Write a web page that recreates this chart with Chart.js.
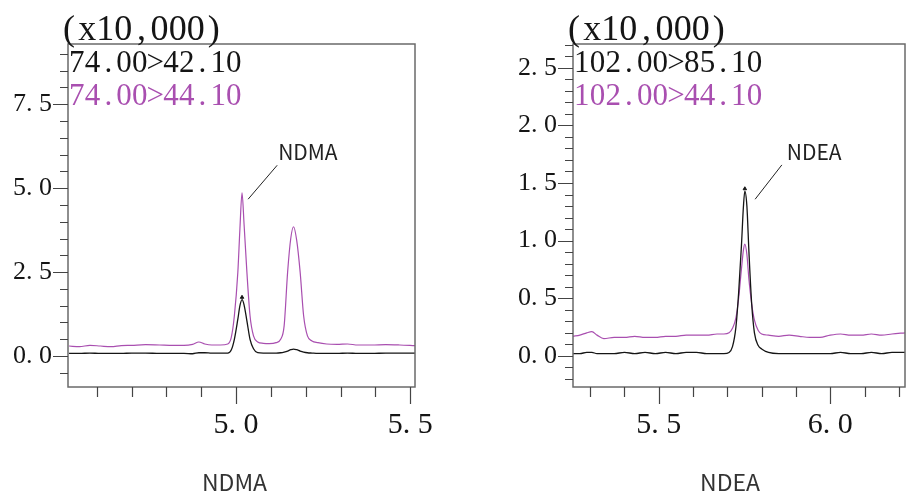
<!DOCTYPE html>
<html>
<head>
<meta charset="utf-8">
<script src="https://cdn.jsdelivr.net/npm/chart.js@4"></script>
<style>
  body { margin: 0; background: #fff; }
  canvas { position: absolute; top: 0; }
</style>
</head>
<body>
<canvas id="ndma" width="455" height="496" style="left:0"></canvas>
<canvas id="ndea" width="455" height="496" style="left:455px"></canvas>
<script>
// NDMA: retention time (min) and intensity (x10,000)
const ndmaTime = [4.52, 4.55, 4.58, 4.61, 4.64, 4.67, 4.70, 4.74, 4.78, 4.82,
  4.85, 4.875, 4.893, 4.91, 4.93, 4.955, 4.976, 4.986, 4.995, 5.005,
  5.011, 5.017, 5.023, 5.031, 5.040, 5.050, 5.062, 5.078, 5.095, 5.115,
  5.128, 5.138, 5.148, 5.157, 5.165, 5.174, 5.184, 5.194, 5.205, 5.218,
  5.235, 5.26, 5.29, 5.32, 5.35, 5.39, 5.43, 5.47, 5.514];
const ndma42 = [0.08, 0.08, 0.09, 0.08, 0.08, 0.08, 0.09, 0.09, 0.08, 0.08,
  0.08, 0.07, 0.10, 0.10, 0.09, 0.09, 0.09, 0.18, 0.50, 1.10,
  1.50, 1.68, 1.52, 1.05, 0.50, 0.22, 0.10, 0.09, 0.09, 0.09,
  0.10, 0.12, 0.15, 0.19, 0.21, 0.19, 0.15, 0.12, 0.10, 0.09,
  0.08, 0.08, 0.08, 0.09, 0.08, 0.08, 0.09, 0.09, 0.09];
const ndma44 = [0.30, 0.28, 0.32, 0.30, 0.28, 0.31, 0.32, 0.34, 0.33, 0.32,
  0.32, 0.35, 0.42, 0.36, 0.33, 0.33, 0.36, 0.55, 1.20, 2.50,
  3.80, 4.86, 3.90, 2.50, 1.20, 0.60, 0.42, 0.38, 0.37, 0.40,
  0.50, 0.90, 2.50, 3.50, 3.85, 3.45, 2.50, 1.20, 0.60, 0.45,
  0.40, 0.36, 0.35, 0.36, 0.33, 0.33, 0.34, 0.33, 0.31];

// NDEA
const ndeaTime = [5.25, 5.27, 5.29, 5.305, 5.32, 5.34, 5.37, 5.40, 5.43, 5.46,
  5.49, 5.52, 5.55, 5.58, 5.61, 5.64, 5.67, 5.69, 5.705, 5.715,
  5.725, 5.733, 5.741, 5.747, 5.751, 5.757, 5.763, 5.771, 5.779, 5.79,
  5.80, 5.82, 5.85, 5.88, 5.91, 5.94, 5.97, 6.00, 6.03, 6.06,
  6.09, 6.12, 6.15, 6.18, 6.218];
const ndea85 = [0.02, 0.02, 0.03, 0.03, 0.02, 0.02, 0.02, 0.03, 0.02, 0.03,
  0.02, 0.03, 0.02, 0.03, 0.03, 0.02, 0.02, 0.02, 0.03, 0.08,
  0.25, 0.55, 0.95, 1.30, 1.43, 1.30, 0.90, 0.45, 0.20, 0.09,
  0.06, 0.03, 0.02, 0.02, 0.02, 0.02, 0.02, 0.02, 0.03, 0.02,
  0.02, 0.03, 0.02, 0.03, 0.03];
const ndea44 = [0.17, 0.18, 0.20, 0.21, 0.18, 0.15, 0.16, 0.16, 0.17, 0.16,
  0.16, 0.17, 0.17, 0.18, 0.18, 0.18, 0.19, 0.19, 0.20, 0.24,
  0.33, 0.50, 0.75, 0.92, 0.97, 0.88, 0.66, 0.45, 0.31, 0.22,
  0.19, 0.18, 0.17, 0.18, 0.17, 0.16, 0.16, 0.18, 0.19, 0.18,
  0.18, 0.19, 0.18, 0.19, 0.20];

const ndmaTraces = ['74.00>42.10', '74.00>44.10'];
const ndeaTraces = ['102.00>85.10', '102.00>44.10'];

// labelled (long) ticks; the rest get short marks
const ndmaXLabels = [5.0, 5.5];
const ndmaYLabels = [0, 2.5, 5.0, 7.5];
const ndeaXLabels = [5.5, 6.0];
const ndeaYLabels = [0, 0.5, 1.0, 1.5, 2.0, 2.5];

const BLACK = '#151515';
const PURPLE = '#a94fb0';
const SERIF = '"Liberation Serif", serif';
const SANS = '"Noto Sans CJK JP", "Noto Sans", sans-serif';

const isOn = (v, list) => list.some(m => Math.abs(m - v) < 1e-6);
const fmt = v => (Math.round(v * 10) / 10).toFixed(1).replace('.', '. ');
const pts = (xs, ys) => xs.map((x, i) => ({x: x, y: ys[i]}));

// keep only ticks that sit on the step grid
const onStep = step => scale => {
  scale.ticks = scale.ticks.filter(t => Math.abs(t.value / step - Math.round(t.value / step)) < 1e-6);
};

// draw each character in a fixed-width cell (mincho style spacing)
function monoText(ctx, str, x, y, cell) {
  ctx.textAlign = 'center';
  for (let i = 0; i < str.length; i++) ctx.fillText(str[i], x + cell * i + cell / 2, y);
}

const panelDecor = {
  id: 'panelDecor',
  afterDraw(chart, args, o) {
    const {ctx, chartArea: a, scales: {x, y}} = chart;
    ctx.save();

    // frame
    ctx.strokeStyle = '#6a6a6a';
    ctx.lineWidth = 1.5;
    ctx.strokeRect(a.left, a.top, a.right - a.left, a.bottom - a.top);

    // tick marks
    ctx.strokeStyle = '#444';
    ctx.lineWidth = 1.2;
    ctx.beginPath();
    x.ticks.forEach(t => {
      const px = Math.round(x.getPixelForValue(t.value)) + 0.5;
      ctx.moveTo(px, a.bottom);
      ctx.lineTo(px, a.bottom + (isOn(t.value, o.xLabels) ? 17 : 10));
    });
    y.ticks.forEach(t => {
      const py = Math.round(y.getPixelForValue(t.value)) + 0.5;
      ctx.moveTo(a.left, py);
      ctx.lineTo(a.left - (isOn(t.value, o.yLabels) ? 15 : 8), py);
    });
    ctx.stroke();

    // multiplier and transition labels
    ctx.textBaseline = 'alphabetic';
    ctx.fillStyle = BLACK;
    ctx.font = '36px ' + SERIF;
    monoText(ctx, '(x10,000)', a.left - 8, 40, 18.1);
    ctx.font = '31px ' + SERIF;
    monoText(ctx, o.traces[0], a.left + 1, 72, 15.7);
    ctx.fillStyle = PURPLE;
    monoText(ctx, o.traces[1], a.left + 1, 105, 15.7);

    // peak label with leader line
    const x0 = x.getPixelForValue(o.leader[0]), y0 = y.getPixelForValue(o.leader[1]);
    const x1 = x.getPixelForValue(o.leader[2]), y1 = y.getPixelForValue(o.leader[3]);
    ctx.strokeStyle = '#222';
    ctx.lineWidth = 1;
    ctx.beginPath();
    ctx.moveTo(x0, y0);
    ctx.lineTo(x1, y1);
    ctx.stroke();
    ctx.fillStyle = '#222';
    ctx.font = '21px ' + SANS;
    ctx.textAlign = 'left';
    ctx.textBaseline = 'middle';
    ctx.fillText(o.name, x1 + o.nameDx, y1 - 13);

    // compound name under the axis
    ctx.font = '23px ' + SANS;
    ctx.textAlign = 'center';
    ctx.fillStyle = '#333';
    ctx.fillText(o.name, (a.left + a.right) / 2 - o.titleDx, 482);
    ctx.restore();
  }
};

function makePanel(id, cfg) {
  const apex = cfg.lo.indexOf(Math.max(...cfg.lo));
  new Chart(id, {
    type: 'line',
    data: {
      datasets: [
        {
          data: [{x: cfg.time[apex], y: cfg.lo[apex] + cfg.apexLift}],
          showLine: false,
          pointStyle: 'triangle',
          pointRadius: 2,
          pointBackgroundColor: BLACK,
          pointBorderColor: BLACK,
          pointBorderWidth: 1,
        },
        {
          data: pts(cfg.time, cfg.lo),
          borderColor: BLACK,
          borderWidth: 1.3,
          pointRadius: 0,
          cubicInterpolationMode: 'monotone',
          fill: false,
        },
        {
          data: pts(cfg.time, cfg.hi),
          borderColor: PURPLE,
          borderWidth: 1.2,
          pointRadius: 0,
          cubicInterpolationMode: 'monotone',
          fill: false,
        },
      ],
    },
    options: {
      responsive: false,
      animation: false,
      layout: { padding: { top: 44, right: cfg.padRight, left: 0, bottom: 0 } },
      plugins: {
        legend: { display: false },
        tooltip: { enabled: false },
        panelDecor: {
          traces: cfg.traces,
          xLabels: cfg.xLabels,
          yLabels: cfg.yLabels,
          name: cfg.name,
          leader: cfg.leader,
          nameDx: cfg.nameDx,
          titleDx: cfg.titleDx,
        },
      },
      scales: {
        x: {
          type: 'linear',
          min: cfg.xMin,
          max: cfg.xMax,
          afterFit: s => { s.height = 109; },
          afterBuildTicks: onStep(0.1),
          ticks: {
            stepSize: 0.1,
            includeBounds: false,
            autoSkip: false,
            maxRotation: 0,
            padding: 3,
            color: BLACK,
            font: { family: SERIF, size: 30 },
            callback: v => isOn(v, cfg.xLabels) ? fmt(v) : '',
          },
          grid: { display: false, drawTicks: true, tickLength: 17 },
          border: { display: false },
        },
        y: {
          min: cfg.yMin,
          max: cfg.yMax,
          afterFit: s => { s.width = cfg.yWidth; },
          afterBuildTicks: onStep(cfg.yStep),
          ticks: {
            stepSize: cfg.yStep,
            includeBounds: false,
            autoSkip: false,
            padding: 1,
            color: BLACK,
            font: { family: SERIF, size: 26 },
            callback: v => isOn(v, cfg.yLabels) ? fmt(v) : '',
          },
          grid: { display: false, drawTicks: true, tickLength: 15 },
          border: { display: false },
        },
      },
    },
    plugins: [panelDecor],
  });
}

makePanel('ndma', {
  time: ndmaTime, lo: ndma42, hi: ndma44, traces: ndmaTraces,
  xLabels: ndmaXLabels, yLabels: ndmaYLabels,
  xMin: 4.517, xMax: 5.514, yMin: -0.92, yMax: 9.29, yStep: 0.5,
  yWidth: 68, padRight: 40, apexLift: 0.07,
  name: 'NDMA', leader: [5.0345, 4.67, 5.118, 5.68], nameDx: 1, titleDx: 7,
});

makePanel('ndea', {
  time: ndeaTime, lo: ndea85, hi: ndea44, traces: ndeaTraces,
  xLabels: ndeaXLabels, yLabels: ndeaYLabels,
  xMin: 5.25, xMax: 6.218, yMin: -0.27, yMax: 2.706, yStep: 0.1,
  yWidth: 118, padRight: 0, apexLift: 0.02,
  name: 'NDEA', leader: [5.781, 1.359, 5.859, 1.657], nameDx: 5, titleDx: 9,
});
</script>
</body>
</html>
